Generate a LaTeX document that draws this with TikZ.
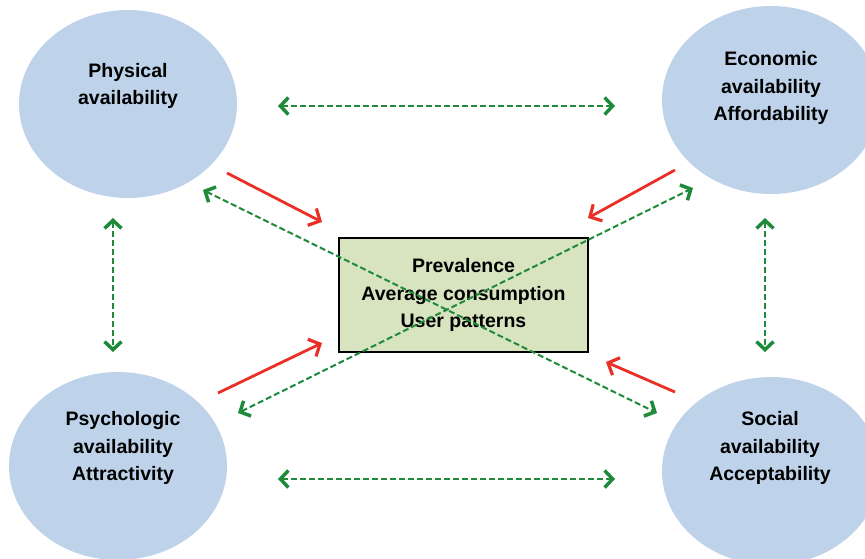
\documentclass[tikz,border=0pt]{standalone}
\usepackage{fontspec}
\setmainfont{Liberation Sans}
\usetikzlibrary{shapes.geometric,arrows.meta}

\definecolor{availblue}{RGB}{190,211,234}
\definecolor{coregreen}{RGB}{216,228,192}
\definecolor{linkgreen}{RGB}{30,138,58}
\definecolor{pullred}{RGB}{234,48,38}

\tikzset{
  avail/.style={ellipse, fill=availblue, minimum width=218pt, minimum height=188pt, inner sep=0pt},
  lbl/.style={font=\bfseries\fontsize{19.5}{27.5}\selectfont, align=center},
  core/.style={draw=black, line width=1.5pt, fill=coregreen, minimum width=249pt, minimum height=114pt, inner sep=0pt},
  link/.style={draw=linkgreen, line width=2pt, dash pattern=on 6pt off 3pt,
    {Straight Barb[length=8pt,width=17pt,line width=3.5pt]}-{Straight Barb[length=8pt,width=17pt,line width=3.5pt]}},
  pull/.style={draw=pullred, line width=2.8pt, -{Straight Barb[length=9pt,width=19pt,line width=3.2pt]}}
}

\begin{document}
\begin{tikzpicture}[x=1pt,y=-1pt]

\clip (0,0) rectangle (865,558);
\fill[white] (0,0) rectangle (865,558);

% the four kinds of availability
\node[avail] (phys) at (128,104) {};
\node[avail] (econ) at (771,100) {};
\node[avail] (psych) at (118,466) {};
\node[avail] (soc) at (771,471) {};

\node[lbl] (physlbl) at (128,86) {Physical\\availability};
\node[lbl] (econlbl) at (771,88) {Economic\\availability\\Affordability};
\node[lbl] (psychlbl) at (123,448) {Psychologic\\availability\\Attractivity};
\node[lbl] (soclbl) at (770,448) {Social\\availability\\Acceptability};

% outcome box
\node[core, lbl] (core) at (463.5,295) {Prevalence\\Average consumption\\User patterns};

% arrow ends
\coordinate (topL) at (278,106);
\coordinate (topR) at (615,106);
\coordinate (botL) at (278,479);
\coordinate (botR) at (615,479);
\coordinate (leftT) at (113,218);
\coordinate (leftB) at (113,352);
\coordinate (rightT) at (765,218);
\coordinate (rightB) at (765,352);
\coordinate (diagA1) at (203,190);
\coordinate (diagA2) at (657,413);
\coordinate (diagB1) at (238,413);
\coordinate (diagB2) at (693,188);

\coordinate (physout) at (227,173);
\coordinate (physin) at (322,222);
\coordinate (econout) at (675,170);
\coordinate (econin) at (588,218);
\coordinate (psychout) at (218,393);
\coordinate (psychin) at (322,343);
\coordinate (socout) at (675,392);
\coordinate (socin) at (606,362);

% green links between the availabilities
\draw[link] (topL) -- (topR);
\draw[link] (botL) -- (botR);
\draw[link] (leftT) -- (leftB);
\draw[link] (rightT) -- (rightB);
\draw[link] (diagA1) -- (diagA2);
\draw[link] (diagB1) -- (diagB2);

% red influence arrows
\draw[pull] (physout) -- (physin);
\draw[pull] (econout) -- (econin);
\draw[pull] (psychout) -- (psychin);
\draw[pull] (socout) -- (socin);

\end{tikzpicture}
\end{document}
